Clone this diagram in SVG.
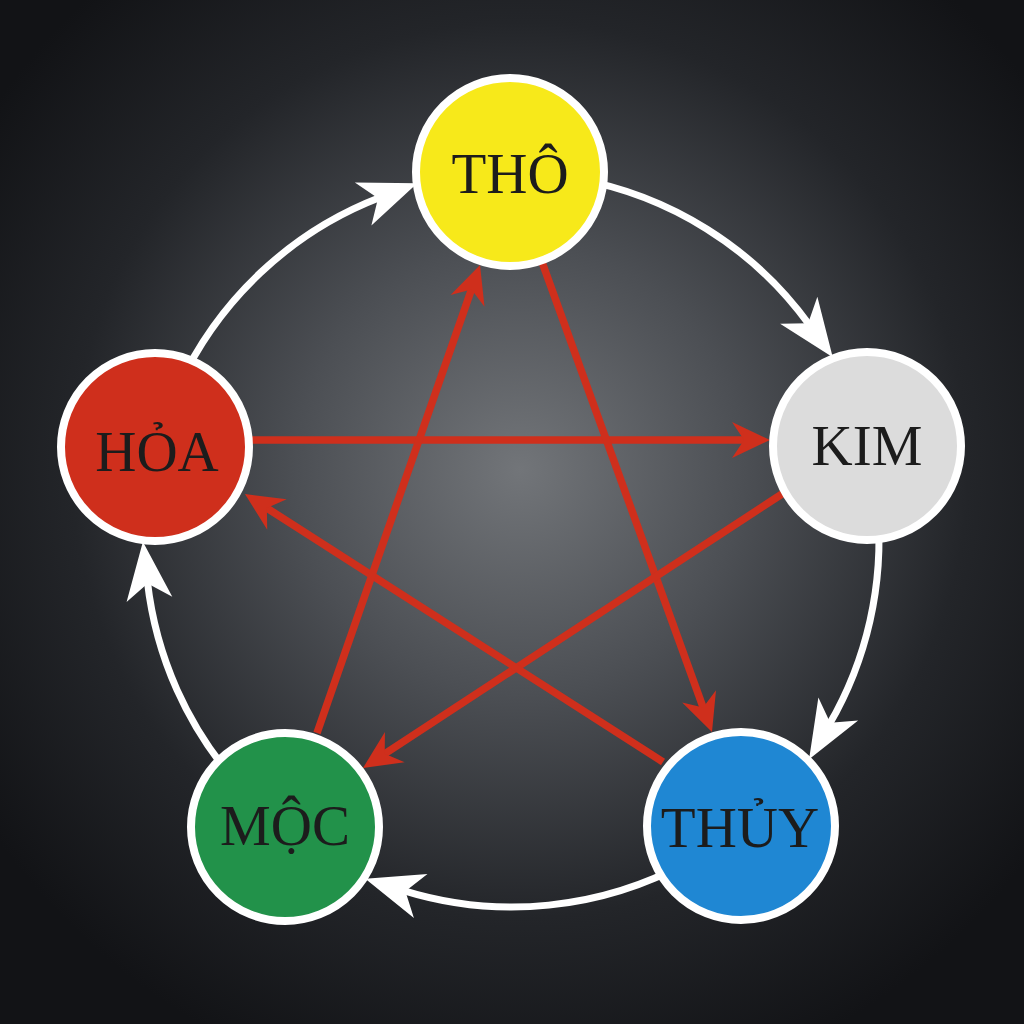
<svg xmlns="http://www.w3.org/2000/svg" width="1024" height="1024" viewBox="0 0 1024 1024">
  <defs>
    <radialGradient id="bg" cx="520" cy="470" r="640" gradientUnits="userSpaceOnUse">
      <stop offset="0" stop-color="#727579"/>
      <stop offset="0.35" stop-color="#4c4f54"/>
      <stop offset="0.7" stop-color="#232529"/>
      <stop offset="1" stop-color="#121316"/>
    </radialGradient>
    <marker id="whiteHead" markerUnits="userSpaceOnUse" viewBox="-25 -30 70 60" markerWidth="70" markerHeight="60" refX="0" refY="0" orient="auto" overflow="visible">
      <path d="M40,0 L-18,-23 L-2,0 L-18,23 Z" fill="#ffffff"/>
    </marker>
    <marker id="redHead" markerUnits="userSpaceOnUse" viewBox="-20 -25 50 50" markerWidth="50" markerHeight="50" refX="0" refY="0" orient="auto" overflow="visible">
      <path d="M25,0 L-13,-18 L-1,0 L-13,18 Z" fill="#cf2f1c"/>
    </marker>
  </defs>
  <style>
    .ring { fill: none; stroke: #ffffff; stroke-width: 7; marker-end: url(#whiteHead); }
    .ctrl { fill: none; stroke: #cf2f1c; stroke-width: 7.5; marker-end: url(#redHead); }
    .node circle { stroke: #ffffff; stroke-width: 8; }
    .node text { font-family: "Liberation Serif", "DejaVu Serif", serif; font-size: 57px; fill: #1c1c1c; text-anchor: middle; }
  </style>

  <rect x="0" y="0" width="1024" height="1024" fill="url(#bg)"/>

  <g id="connectors">
    <!-- generating cycle (white) -->
    <path class="ring" d="M178.3,387.2 A367,367 0 0 1 379.9,197.6"/>
    <path class="ring" d="M575.7,178.6 A367,367 0 0 1 809.3,324.8"/>
    <path class="ring" d="M877.7,509.3 A367,367 0 0 1 829.2,724.6"/>
    <path class="ring" d="M688.2,861.9 A367,367 0 0 1 403.5,890.6"/>
    <path class="ring" d="M238.0,784.2 A367,367 0 0 1 147.4,581.5"/>
    <!-- controlling cycle (red) -->
    <line class="ctrl" x1="250" y1="440" x2="745" y2="440"/>
    <line class="ctrl" x1="542" y1="262" x2="703.5" y2="708.5"/>
    <line class="ctrl" x1="782" y1="494" x2="383.9" y2="754.3"/>
    <line class="ctrl" x1="663" y1="762" x2="266" y2="507.5"/>
    <line class="ctrl" x1="317" y1="733" x2="471.8" y2="288.6"/>
  </g>

  <g id="node-tho" class="node">
    <circle cx="510" cy="172" r="94" fill="#f7e91a"/>
    <text x="510" y="193">THÔ</text>
  </g>
  <g id="node-kim" class="node">
    <circle cx="867" cy="446" r="94" fill="#dcdcdc"/>
    <text x="867" y="465">KIM</text>
  </g>
  <g id="node-thuy" class="node">
    <circle cx="741" cy="826" r="94" fill="#1f87d3"/>
    <text x="740" y="847">THỦY</text>
  </g>
  <g id="node-moc" class="node">
    <circle cx="285" cy="827" r="94" fill="#22924a"/>
    <text x="285" y="845">MỘC</text>
  </g>
  <g id="node-hoa" class="node">
    <circle cx="155" cy="447" r="94" fill="#cf2f1c"/>
    <text x="157" y="471">HỎA</text>
  </g>
</svg>
